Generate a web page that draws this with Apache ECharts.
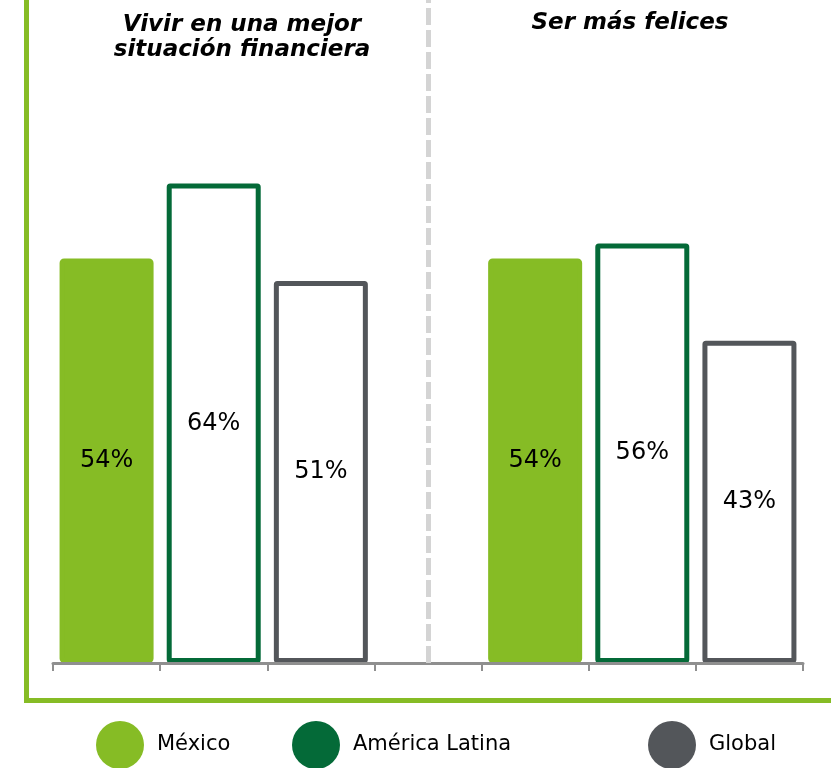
<!DOCTYPE html>
<html>
<head>
<meta charset="utf-8">
<style>
  html, body { margin: 0; padding: 0; background: #fff; }
  #chart { width: 831px; height: 768px; }
</style>
<script src="https://cdn.jsdelivr.net/npm/echarts@6/dist/echarts.min.js"></script>
</head>
<body>
<div id="chart"></div>
<script>
// datos
var groups = ['Vivir en una mejor\nsituación financiera', 'Ser más felices'];
var countries = ['México', 'América Latina', 'Global'];
var mexico = [54, 54];
var latam = [64, 56];
var globalData = [51, 43];
var colors = ['#86bc25', '#046a38', '#53565a'];

// 7 posiciones: 3 barras, separador, 3 barras
var categories = [];
groups.forEach(function (g, gi) {
  countries.forEach(function (c) { categories.push(gi + '-' + c); });
  if (gi < groups.length - 1) categories.push('sep');
});

function slots(values, ci) {
  var arr = categories.map(function () { return '-'; });
  values.forEach(function (v, gi) { arr[gi * 4 + ci] = v; });
  return arr;
}

var font = 'DejaVu Sans, Verdana, sans-serif';
var myChart = echarts.init(document.getElementById('chart'));

var seriesValues = [mexico, latam, globalData];
var series = countries.map(function (name, ci) {
  var filled = ci === 0;
  var s = {
    name: name,
    type: 'bar',
    barWidth: 94,
    barGap: '-100%',
    data: slots(seriesValues[ci], ci),
    itemStyle: {
      color: filled ? colors[ci] : '#fff',
      borderColor: colors[ci],
      borderWidth: 5,
      borderRadius: filled ? 2 : 1
    },
    label: {
      show: true,
      position: 'inside',
      formatter: '{c}%',
      fontFamily: font,
      fontSize: 24,
      color: '#000'
    },
    emphasis: { disabled: true }
  };
  if (ci === 0) {
    s.markLine = {
      silent: true,
      symbol: 'none',
      label: { show: false },
      lineStyle: { color: '#d4d4d4', width: 5, type: [17, 5] },
      data: [{ xAxis: 'sep' }]
    };
  }
  return s;
});

var legends = countries.map(function (name, ci) {
  return {
    left: [96, 292, 648][ci],
    top: 721,
    icon: 'circle',
    itemWidth: 48,
    itemHeight: 48,
    selectedMode: false,
    padding: 0,
    textStyle: { fontFamily: font, fontSize: 21, color: '#000', padding: [0, 0, 0, 8] },
    data: [{ name: name, itemStyle: { color: colors[ci], borderWidth: 0 } }]
  };
});

var titleStyle = { fontFamily: font, fontSize: 23, fontWeight: 'bold', fontStyle: 'italic', color: '#000', lineHeight: 25 };

var option = {
  animation: false,
  title: [
    { text: groups[0], left: 242, top: 13, textAlign: 'center', padding: 0, textStyle: titleStyle },
    { text: groups[1], left: 630, top: 11, textAlign: 'center', padding: 0, textStyle: titleStyle }
  ],
  legend: legends,
  grid: { left: 53, right: 28, top: 0, bottom: 105 },
  xAxis: {
    type: 'category',
    data: categories,
    z: 3,
    axisLine: { lineStyle: { color: '#8f8f8f', width: 3 } },
    axisTick: { show: true, interval: 0, length: 8, lineStyle: { color: '#8f8f8f', width: 2 } },
    axisLabel: { show: false, interval: 0 }
  },
  yAxis: {
    type: 'value', min: 0, max: 88.5, show: false,
    splitLine: { show: false }
  },
  graphic: [
    {
      type: 'polyline',
      silent: true,
      shape: { points: [[26.5, 0], [26.5, 700.5], [831, 700.5]] },
      style: { stroke: '#86bc25', lineWidth: 5, fill: null }
    }
  ],
  series: series
};

myChart.setOption(option);
window.onresize = function () { myChart.resize(); };
</script>
</body>
</html>
